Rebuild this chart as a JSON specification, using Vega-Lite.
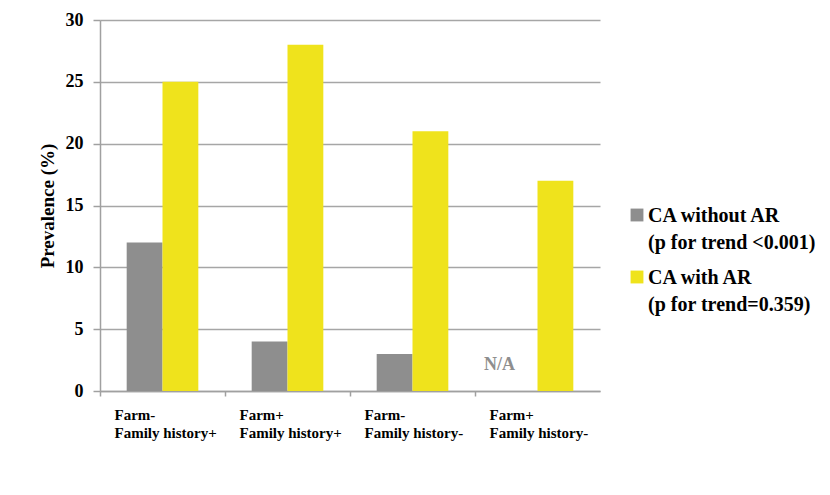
{
  "$schema": "https://vega.github.io/schema/vega-lite/v6.json",
  "autosize": "none",
  "width": 500,
  "height": 371,
  "padding": {"left": 100, "top": 20, "right": 230, "bottom": 104},
  "background": "white",
  "config": {
    "font": "Liberation Serif",
    "view": {"stroke": null},
    "axis": {"labelFont": "Liberation Serif", "titleFont": "Liberation Serif", "labelFontWeight": "bold", "titleFontWeight": "bold", "labelColor": "black", "titleColor": "black", "domainColor": "#a0a0a0", "tickColor": "#a0a0a0", "gridColor": "#a6a6a6", "domainWidth": 1.5, "tickWidth": 1.5, "gridWidth": 1.5},
    "legend": {"labelFont": "Liberation Serif", "labelFontWeight": "bold"}
  },
  "datasets": {
    "bars": [
      {"group": "Farm-|Family history+", "series": "CA without AR|(p for trend <0.001)", "value": 12},
      {"group": "Farm-|Family history+", "series": "CA with AR|(p for trend=0.359)", "value": 25},
      {"group": "Farm+|Family history+", "series": "CA without AR|(p for trend <0.001)", "value": 4},
      {"group": "Farm+|Family history+", "series": "CA with AR|(p for trend=0.359)", "value": 28},
      {"group": "Farm-|Family history-", "series": "CA without AR|(p for trend <0.001)", "value": 3},
      {"group": "Farm-|Family history-", "series": "CA with AR|(p for trend=0.359)", "value": 21},
      {"group": "Farm+|Family history-", "series": "CA with AR|(p for trend=0.359)", "value": 17}
    ],
    "notes": [
      {"group": "Farm+|Family history-", "series": "CA without AR|(p for trend <0.001)", "label": "N/A", "pos": 2.1}
    ]
  },
  "layer": [
    {
      "data": {"name": "bars"},
      "mark": {"type": "bar"},
      "encoding": {
        "x": {
          "field": "group", "type": "nominal", "sort": null,
          "scale": {"domain": ["Farm-|Family history+", "Farm+|Family history+", "Farm-|Family history-", "Farm+|Family history-"], "paddingInner": 0, "paddingOuter": 0},
          "axis": {"title": null, "labelAngle": 0, "bandPosition": 0, "labelAlign": "left", "labelBaseline": "top", "labelOffset": -48, "labelFontSize": 15, "labelLineHeight": 18, "labelPadding": 11, "tickSize": 5, "labelExpr": "split(datum.label, '|')", "grid": false}
        },
        "xOffset": {
          "field": "series", "type": "nominal", "sort": null,
          "scale": {"domain": ["CA without AR|(p for trend <0.001)", "CA with AR|(p for trend=0.359)"], "paddingInner": 0, "paddingOuter": 0.745}
        },
        "y": {
          "field": "value", "type": "quantitative",
          "scale": {"domain": [0, 30], "nice": false},
          "axis": {"title": "Prevalence (%)", "titleFontSize": 19, "titlePadding": 8, "values": [0, 5, 10, 15, 20, 25, 30], "labelFontSize": 18, "labelPadding": 10, "tickSize": 7, "grid": true}
        },
        "color": {
          "field": "series", "type": "nominal", "sort": null,
          "scale": {"domain": ["CA without AR|(p for trend <0.001)", "CA with AR|(p for trend=0.359)"], "range": ["#8e8e8e", "#efe31c"]},
          "legend": {
            "title": null, "orient": "none", "legendX": 527, "legendY": 185,
            "symbolType": "square", "symbolSize": 165, "symbolStrokeWidth": 0,
            "labelFontSize": 20, "labelBaseline": "alphabetic", "labelLimit": 300, "labelOffset": 1,
            "rowPadding": 14, "labelColor": "black",
            "labelExpr": "split(datum.label, '|')",
            "encode": {"labels": {"update": {"dy": {"value": 7}, "lineHeight": {"value": 27}}}}
          }
        }
      }
    },
    {
      "data": {"name": "notes"},
      "mark": {"type": "text", "fontSize": 18, "fontWeight": "bold", "color": "#8e8e8e", "baseline": "middle", "dx": -20},
      "encoding": {
        "x": {"field": "group", "type": "nominal", "sort": null},
        "xOffset": {"field": "series", "type": "nominal", "sort": null},
        "y": {"field": "pos", "type": "quantitative"},
        "text": {"field": "label"}
      }
    }
  ]
}
